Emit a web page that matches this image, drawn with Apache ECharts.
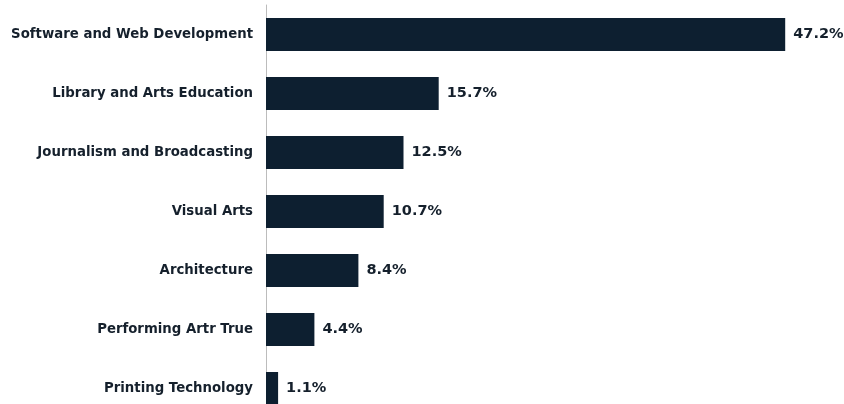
<!DOCTYPE html>
<html><head><meta charset="utf-8">
<script src="https://cdn.jsdelivr.net/npm/echarts@6/dist/echarts.min.js"></script>
<style>html,body{margin:0;padding:0;background:#fff;overflow:hidden;width:844px;height:404px}#c{width:844px;height:418px}</style>
</head><body><div id="c"></div>
<script>
const categories = ["Software and Web Development","Library and Arts Education","Journalism and Broadcasting","Visual Arts","Architecture","Performing Artr True","Printing Technology"];
const values = [47.2,15.7,12.5,10.7,8.4,4.4,1.1];
const chart = echarts.init(document.getElementById('c'));
chart.setOption({
  animation:false,
  grid:{left:266,top:5,width:550,bottom:0,containLabel:false},
  xAxis:{type:'value',min:0,max:50,show:false},
  yAxis:{type:'category',inverse:true,data:categories,
    axisLine:{show:true,lineStyle:{color:'#bcbcbc',width:1}},
    axisTick:{show:false},
    axisLabel:{margin:13,color:'#15202c',fontFamily:'DejaVu Sans',fontWeight:'bold',fontSize:13.3}},
  series:[{type:'bar',data:values,barWidth:33,
    itemStyle:{color:'#0d1f30'},
    label:{show:true,position:'right',distance:8,formatter:p=>p.value.toFixed(1)+'%',
      color:'#15202c',fontFamily:'DejaVu Sans',fontWeight:'bold',fontSize:14.5}}]
});
</script></body></html>
